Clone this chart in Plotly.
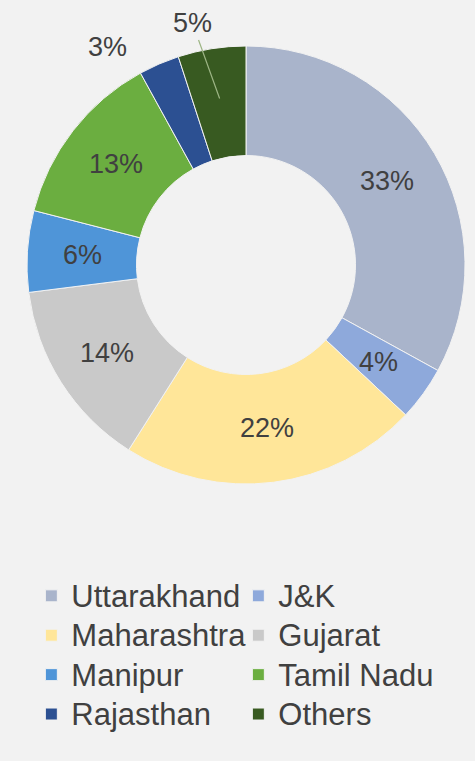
import math
import plotly.graph_objects as go

labels = ["Uttarakhand", "J&K", "Maharashtra", "Gujarat", "Manipur", "Tamil Nadu", "Rajasthan", "Others"]
values = [33, 4, 22, 14, 6, 13, 3, 5]
colors = ["#A9B4CB", "#8EA9DB", "#FFE699", "#C9C9C9", "#4F95D8", "#6BAE40", "#2C5092", "#385A21"]

W, H = 475, 761
CX, CY, R = 246, 265, 219  # donut centre / radius in px
FONT = "Liberation Sans, Arial"
TXT = "#404040"
LBL_SIZE = 27

legend_names = [f'<span style="font-size:31px">{l}</span>' for l in labels]

fig = go.Figure(go.Pie(
    labels=legend_names,
    values=values,
    hole=0.5,
    sort=False,
    direction="clockwise",
    rotation=0,
    marker=dict(colors=colors, line=dict(color="#F2F2F2", width=1)),
    textinfo="none",
    hoverinfo="label+percent",
    domain=dict(x=[(CX - R) / W, (CX + R) / W], y=[1 - (CY + R) / H, 1 - (CY - R) / H]),
    automargin=False,
    showlegend=True,
))

total = sum(values)
cum = 0
mids = []
for v in values:
    mids.append((cum + v / 2) / total * 360)
    cum += v


def polar(angle_deg, rad_px):
    a = math.radians(angle_deg)
    px = CX + rad_px * math.sin(a)
    py = CY - rad_px * math.cos(a)
    return px / W, 1 - py / H


annotations = []
for i, v in enumerate(values):
    if i < 6:
        x, y = polar(mids[i], 0.75 * R)
        annotations.append(dict(x=x, y=y, xref="paper", yref="paper", text=f"{v}%",
                                xanchor="center", yanchor="middle",
                                showarrow=False, font=dict(family=FONT, size=LBL_SIZE, color=TXT)))
# Rajasthan label (outside, upper left)
x, y = polar(mids[6] - 9, 1.18 * R)
annotations.append(dict(x=x, y=y, xref="paper", yref="paper", text=f"{values[6]}%",
                        xanchor="center", yanchor="middle",
                        showarrow=False, font=dict(family=FONT, size=LBL_SIZE, color=TXT)))
# Others label with leader line
x, y = polar(mids[7], 0.77 * R)
annotations.append(dict(x=x, y=y, xref="paper", yref="paper", text=f"{values[7]}%",
                        showarrow=True, arrowhead=0, arrowwidth=1.2, arrowcolor="#9DB585",
                        ax=-27, ay=-75, standoff=0,
                        font=dict(family=FONT, size=LBL_SIZE, color=TXT)))

fig.update_layout(
    width=W,
    height=H,
    margin=dict(l=0, r=0, t=0, b=0),
    paper_bgcolor="#F2F2F2",
    plot_bgcolor="#F2F2F2",
    annotations=annotations,
    legend=dict(
        orientation="h",
        x=0.066,
        xanchor="left",
        y=0.2495,
        yanchor="top",
        entrywidth=162,
        entrywidthmode="pixels",
        font=dict(family=FONT, size=28, color=TXT),
        traceorder="normal",
        bgcolor="rgba(0,0,0,0)",
    ),
)

fig.write_html("out.html", config={"displayModeBar": False},
               post_script="document.body.style.margin='0';")
